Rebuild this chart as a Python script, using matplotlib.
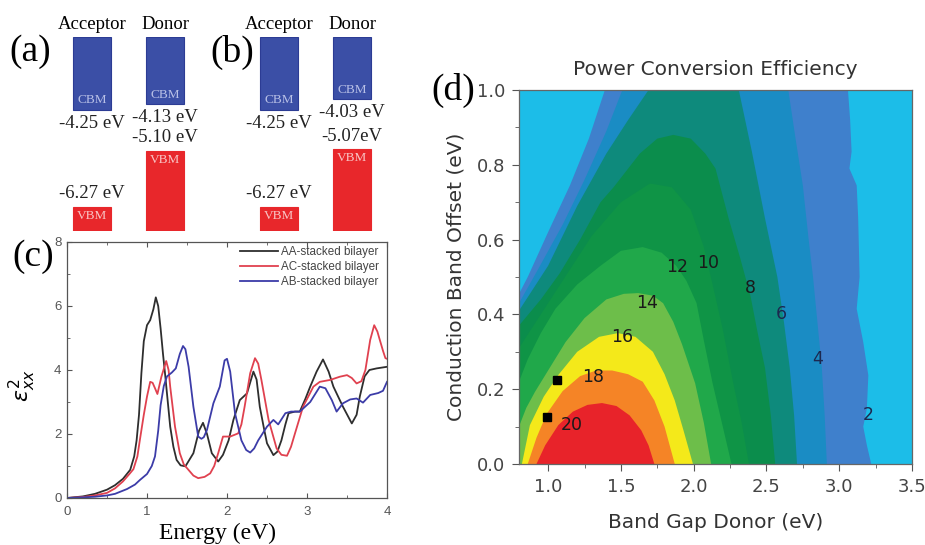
import numpy as np
import matplotlib
matplotlib.use("Agg")
import matplotlib.pyplot as plt
from matplotlib.ticker import MultipleLocator, FormatStrFormatter

# ---------------- data ----------------
# (a) / (b) band edges of acceptor and donor (eV)
columns = ["Acceptor", "Donor"]
cbm_a = [-4.25, -4.13]
vbm_a = [-6.27, -5.10]
cbm_txt_a = ["-4.25 eV", "-4.13 eV"]
vbm_txt_a = ["-6.27 eV", "-5.10 eV"]
cbm_b = [-4.25, -4.03]
vbm_b = [-6.27, -5.07]
cbm_txt_b = ["-4.25 eV", "-4.03 eV"]
vbm_txt_b = ["-6.27 eV", "-5.07eV"]

# (c) imaginary dielectric function eps2_xx
e_aa = [0, 0.2, 0.35, 0.5, 0.6, 0.7, 0.79, 0.84, 0.87, 0.9, 0.93, 0.96, 1.0, 1.04, 1.08, 1.11,
        1.14, 1.17, 1.2, 1.225, 1.26, 1.29, 1.33, 1.37, 1.42, 1.48, 1.58, 1.65, 1.70, 1.75, 1.81,
        1.89, 1.95, 2.02, 2.08, 2.16, 2.25, 2.33, 2.37, 2.41, 2.46, 2.5, 2.58, 2.63, 2.68, 2.73,
        2.77, 2.85, 2.91, 2.98, 3.04, 3.12, 3.2, 3.27, 3.33, 3.45, 3.56, 3.62, 3.66, 3.72, 3.78,
        3.87, 4.0]
eps_aa = [0, 0.05, 0.13, 0.26, 0.4, 0.6, 0.88, 1.3, 1.8, 2.6, 3.9, 4.9, 5.4, 5.56, 5.9, 6.27,
          6.0, 5.3, 4.5, 3.9, 3.0, 2.23, 1.6, 1.19, 1.02, 0.99, 1.4, 2.1, 2.35, 2.0, 1.4,
          1.14, 1.35, 1.8, 2.44, 3.06, 3.27, 3.95, 3.7, 2.85, 2.2, 1.71, 1.34, 1.45, 1.8, 2.3,
          2.65, 2.7, 2.7, 3.1, 3.48, 3.95, 4.33, 3.95, 3.48, 2.85, 2.33, 2.6, 3.17, 3.8, 4.0,
          4.05, 4.1]
e_ac = [0, 0.2, 0.35, 0.5, 0.6, 0.7, 0.78, 0.83, 0.88, 0.91, 0.96, 1.0, 1.04, 1.07, 1.1, 1.13,
        1.18, 1.24, 1.27, 1.29, 1.35, 1.41, 1.46, 1.52, 1.58, 1.64, 1.72, 1.79, 1.84, 1.89, 1.95,
        2.04, 2.1, 2.14, 2.18, 2.22, 2.29, 2.35, 2.39, 2.43, 2.52, 2.62, 2.68, 2.75, 2.8, 2.85,
        2.95, 3.08, 3.16, 3.29, 3.41, 3.5, 3.56, 3.62, 3.68, 3.73, 3.79, 3.84, 3.88, 3.91, 3.95,
        3.98, 4.0]
eps_ac = [0, 0.03, 0.08, 0.16, 0.3, 0.52, 0.75, 0.9, 1.3, 1.8, 2.6, 3.17, 3.63, 3.6, 3.43, 3.25,
          3.79, 4.28, 4.0, 3.48, 2.23, 1.4, 1.05, 0.875, 0.7, 0.62, 0.66, 0.77, 1.0, 1.4, 1.92,
          1.92, 1.98, 2.02, 2.3, 2.85, 3.9, 4.37, 4.2, 3.69, 2.44, 1.55, 1.35, 1.32, 1.6, 2.02,
          2.85, 3.48, 3.63, 3.69, 3.79, 3.84, 3.75, 3.58, 3.65, 4.0, 4.94, 5.4, 5.2, 4.94, 4.6,
          4.37, 4.35]
e_ab = [0, 0.2, 0.35, 0.5, 0.6, 0.75, 0.85, 0.91, 1.0, 1.06, 1.1, 1.14, 1.17, 1.21, 1.25, 1.31,
        1.36, 1.41, 1.45, 1.48, 1.52, 1.58, 1.64, 1.68, 1.71, 1.75, 1.83, 1.91, 1.97, 2.0, 2.04,
        2.1, 2.18, 2.24, 2.29, 2.34, 2.39, 2.5, 2.58, 2.64, 2.73, 2.8, 2.91, 3.04, 3.16, 3.23,
        3.31, 3.37, 3.45, 3.54, 3.62, 3.7, 3.79, 3.89, 3.95, 4.0]
eps_ab = [0, 0.02, 0.04, 0.08, 0.13, 0.28, 0.42, 0.56, 0.75, 1.0, 1.3, 2.1, 2.9, 3.5, 3.8, 3.92,
          4.05, 4.5, 4.75, 4.65, 4.1, 2.85, 1.92, 1.85, 1.9, 2.13, 2.96, 3.48, 4.3, 4.35, 3.95,
          2.65, 1.8, 1.5, 1.42, 1.55, 1.8, 2.23, 2.44, 2.3, 2.65, 2.7, 2.7, 3.0, 3.48, 3.43,
          3.06, 2.7, 2.96, 3.08, 3.11, 2.98, 3.22, 3.28, 3.35, 3.63]

# (d) PCE contour lines (band gap donor, conduction band offset), one per level
pce_levels = [2, 4, 6, 8, 10, 12, 14, 16, 18, 20]
gap_2 = [0.8, 0.86, 1.0, 1.15, 1.28, 1.39, 3.06, 3.075, 3.085, 3.07, 3.12, 3.13, 3.14, 3.12,
         3.165, 3.2, 3.19, 3.165, 3.19, 3.22]
cbo_2 = [0.455, 0.5, 0.62, 0.745, 0.87, 1.0, 1.0, 0.92, 0.835, 0.79, 0.745, 0.66, 0.5, 0.415,
         0.326, 0.237, 0.148, 0.1, 0.05, 0.0]
gap_4 = [0.8, 0.93, 1.1, 1.25, 1.4, 1.51, 2.65, 2.7, 2.75, 2.79, 2.82, 2.85, 2.88, 2.9, 2.915]
cbo_4 = [0.43, 0.52, 0.64, 0.76, 0.89, 1.0, 1.0, 0.87, 0.745, 0.6, 0.5, 0.38, 0.26, 0.13, 0.0]
gap_6 = [0.8, 1.0, 1.2, 1.4, 1.55, 1.69, 2.31, 2.4, 2.49, 2.575, 2.62, 2.66, 2.69, 2.71]
cbo_6 = [0.41, 0.53, 0.69, 0.83, 0.92, 1.0, 1.0, 0.835, 0.657, 0.5, 0.38, 0.257, 0.13, 0.0]
gap_8 = [0.8, 0.95, 1.08, 1.22, 1.36, 1.45, 1.63, 1.75, 1.86, 1.98, 2.08, 2.15, 2.24, 2.32,
         2.39, 2.44, 2.49, 2.53, 2.56]
cbo_8 = [0.37, 0.44, 0.51, 0.6, 0.7, 0.74, 0.83, 0.87, 0.88, 0.87, 0.83, 0.79, 0.657, 0.55,
         0.45, 0.35, 0.257, 0.13, 0.0]
gap_10 = [0.8, 0.95, 1.1, 1.3, 1.5, 1.7, 1.85, 1.98, 2.07, 2.13, 2.2, 2.27, 2.33, 2.38]
cbo_10 = [0.31, 0.4, 0.49, 0.61, 0.7, 0.75, 0.74, 0.68, 0.58, 0.48, 0.36, 0.22, 0.11, 0.0]
gap_12 = [0.8, 0.86, 0.95, 1.05, 1.2, 1.36, 1.5, 1.65, 1.78, 1.88, 1.95, 2.02, 2.07, 2.13,
          2.2, 2.26]
cbo_12 = [0.22, 0.28, 0.35, 0.415, 0.48, 0.53, 0.57, 0.58, 0.565, 0.53, 0.49, 0.43, 0.33,
          0.216, 0.1, 0.0]
gap_14 = [0.8, 0.85, 0.91, 1.0, 1.12, 1.25, 1.4, 1.52, 1.62, 1.72, 1.79, 1.86, 1.92, 2.01,
          2.07, 2.12]
cbo_14 = [0.1, 0.15, 0.193, 0.25, 0.326, 0.39, 0.44, 0.455, 0.457, 0.45, 0.43, 0.38, 0.32,
          0.216, 0.11, 0.0]
gap_16 = [0.82, 0.875, 0.97, 1.07, 1.2, 1.35, 1.48, 1.6, 1.72, 1.8, 1.87, 1.93, 1.995]
cbo_16 = [0.0, 0.104, 0.18, 0.238, 0.3, 0.34, 0.35, 0.34, 0.3, 0.24, 0.17, 0.09, 0.0]
gap_18 = [0.86, 0.92, 0.99, 1.1, 1.22, 1.33, 1.44, 1.55, 1.65, 1.73, 1.8, 1.87]
cbo_18 = [0.0, 0.07, 0.134, 0.195, 0.235, 0.25, 0.25, 0.24, 0.22, 0.17, 0.1, 0.0]
gap_20 = [0.92, 0.98, 1.07, 1.17, 1.27, 1.37, 1.47, 1.56, 1.64, 1.69, 1.73]
cbo_20 = [0.0, 0.05, 0.104, 0.14, 0.158, 0.163, 0.155, 0.13, 0.09, 0.05, 0.0]
contour_gap = [gap_2, gap_4, gap_6, gap_8, gap_10, gap_12, gap_14, gap_16, gap_18, gap_20]
contour_cbo = [cbo_2, cbo_4, cbo_6, cbo_8, cbo_10, cbo_12, cbo_14, cbo_16, cbo_18, cbo_20]
# where the level numbers are written
label_gap = [3.2, 2.85, 2.6, 2.39, 2.10, 1.885, 1.68, 1.51, 1.31, 1.16]
label_cbo = [0.13, 0.28, 0.40, 0.47, 0.537, 0.527, 0.43, 0.34, 0.233, 0.104]
# the two bilayer points
pt_gap = [0.99, 1.06]
pt_cbo = [0.127, 0.225]

# ---------------- figure ----------------
W, H = 925, 545
fig = plt.figure(figsize=(W / 100, H / 100), dpi=100)
plt.rcParams['font.family'] = ['DejaVu Sans']
serif = 'Liberation Serif'
arial = 'Liberation Sans'


def px_axes(left, top, right, bottom):
    return fig.add_axes([left / W, 1 - bottom / H, (right - left) / W, (bottom - top) / H])


def band_panel(ax, cbm, vbm, cbm_txt, vbm_txt):
    top, bot = -2.73, -6.77
    x = np.arange(len(columns))
    cbm = np.array(cbm)
    vbm = np.array(vbm)
    ax.bar(x, top - cbm, bottom=cbm, width=0.52, color='#3b4fa6', edgecolor='#2c3c94', lw=0.8)
    ax.bar(x, vbm - bot, bottom=bot, width=0.52, color='#e8272b', edgecolor='#e8272b', lw=0.8)
    for i in x:
        ax.text(i, -2.47, columns[i], ha='center', va='center', family=serif, fontsize=13.5)
        ax.annotate(cbm_txt[i], (i, cbm[i]), xytext=(0, -9.5), textcoords='offset points',
                    ha='center', va='center', family=serif, fontsize=13.5, color='#222')
        ax.annotate(vbm_txt[i], (i, vbm[i]), xytext=(0, 9.5), textcoords='offset points',
                    ha='center', va='center', family=serif, fontsize=13.5, color='#222')
        ax.annotate("CBM", (i, cbm[i]), xytext=(0, 7), textcoords='offset points',
                    ha='center', va='center', family=serif, fontsize=9.5, color='#b8c0e6')
        ax.annotate("VBM", (i, vbm[i]), xytext=(0, -6.5), textcoords='offset points',
                    ha='center', va='center', family=serif, fontsize=9.5, color='#f8c4c4')
    ax.set_xlim(-0.712, 1.753)
    ax.set_ylim(bot, top)
    ax.axis('off')


ax_a = px_axes(40, 37, 220, 231)
band_panel(ax_a, cbm_a, vbm_a, cbm_txt_a, vbm_txt_a)
ax_b = px_axes(227, 37, 407, 231)
band_panel(ax_b, cbm_b, vbm_b, cbm_txt_b, vbm_txt_b)

# ---- (c)
ax_c = px_axes(67, 242, 387, 498)
ax_c.plot(e_aa, eps_aa, color='#2e2e2e', lw=1.3, label='AA-stacked bilayer')
ax_c.plot(e_ac, eps_ac, color='#e0414f', lw=1.3, label='AC-stacked bilayer')
ax_c.plot(e_ab, eps_ab, color='#3c3ca8', lw=1.3, label='AB-stacked bilayer')
ax_c.set_xlim(0, 4)
ax_c.set_ylim(0, 8)
ax_c.xaxis.set_major_locator(MultipleLocator(1))
ax_c.xaxis.set_minor_locator(MultipleLocator(0.5))
ax_c.yaxis.set_major_locator(MultipleLocator(2))
ax_c.yaxis.set_minor_locator(MultipleLocator(1))
ax_c.tick_params(which='both', direction='in', top=True, right=False, color='#555',
                 labelcolor='#555', labelsize=9.5)
ax_c.tick_params(axis='x', pad=6)
ax_c.tick_params(axis='y', pad=4)
ax_c.tick_params(which='major', length=3.5)
ax_c.tick_params(which='minor', length=2)
for lab in ax_c.get_xticklabels() + ax_c.get_yticklabels():
    lab.set_family(arial)
for sp in ax_c.spines.values():
    sp.set_color('#555')
    sp.set_linewidth(0.9)
ax_c.set_xlabel('Energy (eV)', family=serif, fontsize=17, labelpad=0)
ax_c.xaxis.set_label_coords(0.47, -0.095)
ax_c.set_ylabel(r'$\varepsilon_{xx}^{2}$', fontsize=16, labelpad=4)
ax_c.yaxis.set_label_coords(-0.09, 0.44)
leg = ax_c.legend(loc='upper left', bbox_to_anchor=(0.54, 0.985), frameon=False,
                  prop={'family': arial, 'size': 8.4}, handlelength=3.3, handletextpad=0.2,
                  labelspacing=0.25, borderpad=0, borderaxespad=0)
for t in leg.get_texts():
    t.set_color('#444')

# ---- (d)
band_cols = ['#3f80cc', '#1a8cc4', '#0e8a7c', '#0b8d4c', '#0f9446', '#20a84a',
             '#6dbe4a', '#f4e91a', '#f58426', '#e8232a']
ax_d = px_axes(519, 90, 912, 464)
ax_d.set_facecolor('#1cbde8')
for gx, cy, col in zip(contour_gap, contour_cbo, band_cols):
    ax_d.fill(list(gx) + [0.8], list(cy) + [0.0], color=col, lw=0)
for lev, gx, cy in zip(pce_levels, label_gap, label_cbo):
    c = '#1c2850' if lev <= 6 else '#1a1a1a'
    ax_d.text(gx, cy, str(lev), ha='center', va='center', fontsize=12.5, color=c)
ax_d.plot(pt_gap, pt_cbo, 's', color='black', ms=5.5)
ax_d.set_xlim(0.8, 3.5)
ax_d.set_ylim(0, 1)
ax_d.xaxis.set_major_locator(MultipleLocator(0.5))
ax_d.xaxis.set_minor_locator(MultipleLocator(0.25))
ax_d.yaxis.set_major_locator(MultipleLocator(0.2))
ax_d.yaxis.set_minor_locator(MultipleLocator(0.1))
ax_d.xaxis.set_major_formatter(FormatStrFormatter('%.1f'))
ax_d.yaxis.set_major_formatter(FormatStrFormatter('%.1f'))
ax_d.tick_params(which='both', direction='out', color='#555', labelcolor='#444',
                 labelsize=13, pad=5)
ax_d.tick_params(which='major', length=5)
ax_d.tick_params(which='minor', length=3)
for sp in ax_d.spines.values():
    sp.set_color('#666')
    sp.set_linewidth(0.9)
ax_d.set_title('Power Conversion Efficiency', fontsize=14.5, color='#333', pad=11)
ax_d.set_xlabel('Band Gap Donor (eV)', fontsize=14.5, color='#333', labelpad=12)
ax_d.set_ylabel('Conduction Band Offset (eV)', fontsize=14.5, color='#333', labelpad=8)

# panel letters
for txt, x, y in [('(a)', 30, 52), ('(b)', 232, 52), ('(c)', 33, 257), ('(d)', 453, 90)]:
    fig.text(x / W, 1 - y / H, txt, ha='center', va='center', family=serif, fontsize=27)

fig.savefig('out.png', dpi=100, facecolor='white')
